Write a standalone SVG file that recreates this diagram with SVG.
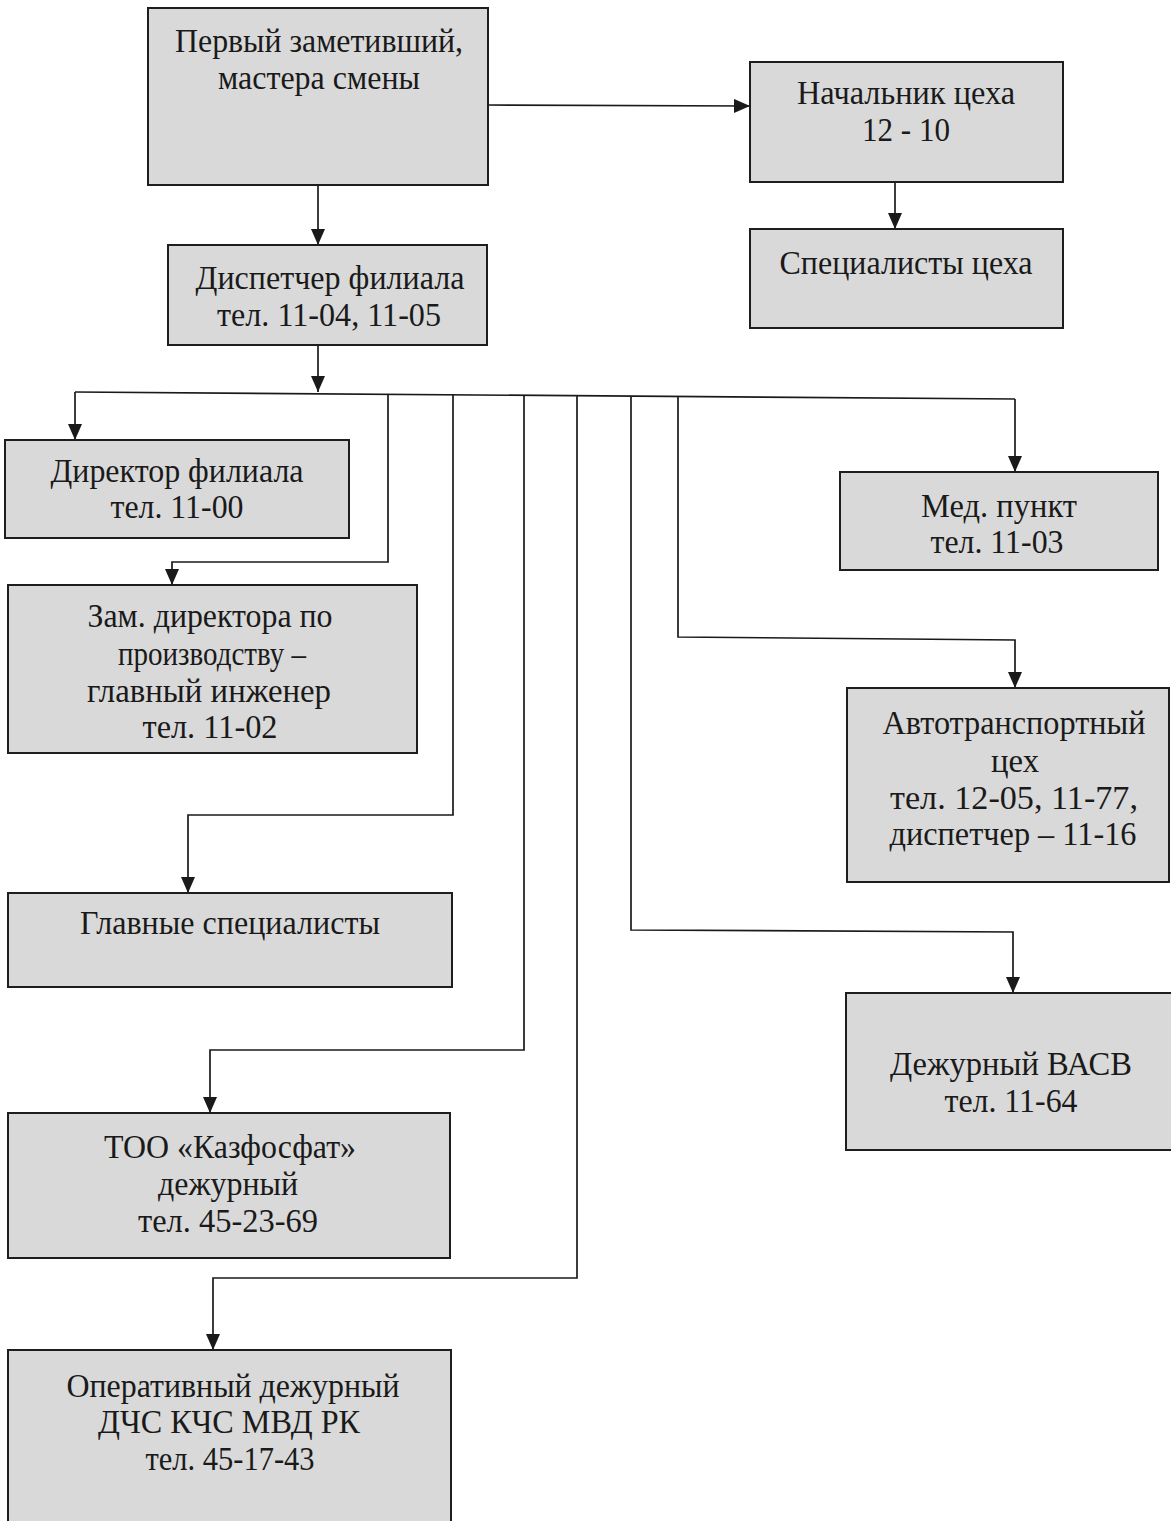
<svg xmlns="http://www.w3.org/2000/svg" width="1171" height="1521" viewBox="0 0 1171 1521">
<defs>
<marker id="arr" markerUnits="userSpaceOnUse" markerWidth="18" markerHeight="16" refX="16" refY="7" orient="auto"><path d="M0,0 L16,7 L0,14 z" fill="#1a1a1a"/></marker>
</defs>
<style>
.box{fill:#d9d9d9;stroke:#1e1e1e;stroke-width:2}
.t{font-family:"Liberation Serif","Times New Roman",serif;font-size:33px;fill:#1a1a1a;text-anchor:middle}
.c{fill:none;stroke:#1a1a1a;stroke-width:1.7}
</style>
<rect width="1171" height="1521" fill="#ffffff"/>
<g id="connectors">
<line class="c" x1="488" y1="105" x2="750" y2="106" marker-end="url(#arr)"/>
<line class="c" x1="318" y1="173" x2="318" y2="245" marker-end="url(#arr)"/>
<line class="c" x1="895" y1="182" x2="895" y2="229" marker-end="url(#arr)"/>
<line class="c" x1="318" y1="345" x2="318" y2="392" marker-end="url(#arr)"/>
<line class="c" x1="75" y1="392" x2="1015" y2="399"/>
<line class="c" x1="75" y1="392" x2="75" y2="440" marker-end="url(#arr)"/>
<polyline class="c" points="388,394 388,562 172,562 172,585" marker-end="url(#arr)"/>
<polyline class="c" points="453,394 453,815 188,815 188,893" marker-end="url(#arr)"/>
<polyline class="c" points="524,395 524,1050 210,1050 210,1113" marker-end="url(#arr)"/>
<polyline class="c" points="577,395 577,1278 213,1278 213,1350" marker-end="url(#arr)"/>
<polyline class="c" points="631,396 631,930 1013,932 1013,993" marker-end="url(#arr)"/>
<polyline class="c" points="678,397 678,637 1015,640 1015,688" marker-end="url(#arr)"/>
<line class="c" x1="1015" y1="399" x2="1015" y2="472" marker-end="url(#arr)"/>
</g>
<g id="n1"><rect class="box" x="148" y="8" width="340" height="177"/>
<text class="t" x="319" y="52" textLength="288" lengthAdjust="spacingAndGlyphs">Первый заметивший,</text><text class="t" x="319" y="89" textLength="202" lengthAdjust="spacingAndGlyphs">мастера смены</text></g>
<g id="n2"><rect class="box" x="750" y="62" width="313" height="120"/>
<text class="t" x="906" y="104" textLength="218" lengthAdjust="spacingAndGlyphs">Начальник цеха</text><text class="t" x="906" y="141" textLength="88" lengthAdjust="spacingAndGlyphs">12 - 10</text></g>
<g id="n3"><rect class="box" x="750" y="229" width="313" height="99"/>
<text class="t" x="906" y="274" textLength="253" lengthAdjust="spacingAndGlyphs">Специалисты цеха</text></g>
<g id="n4"><rect class="box" x="168" y="245" width="319" height="100"/>
<text class="t" x="330" y="289" textLength="269" lengthAdjust="spacingAndGlyphs">Диспетчер филиала</text><text class="t" x="329" y="326" textLength="224" lengthAdjust="spacingAndGlyphs">тел. 11-04, 11-05</text></g>
<g id="n5"><rect class="box" x="5" y="440" width="344" height="98"/>
<text class="t" x="177" y="482" textLength="253" lengthAdjust="spacingAndGlyphs">Директор филиала</text><text class="t" x="177" y="518" textLength="133" lengthAdjust="spacingAndGlyphs">тел. 11-00</text></g>
<g id="n6"><rect class="box" x="8" y="585" width="409" height="168"/>
<text class="t" x="210" y="627" textLength="245" lengthAdjust="spacingAndGlyphs">Зам. директора по</text><text class="t" x="212" y="665" textLength="188" lengthAdjust="spacingAndGlyphs">производству –</text><text class="t" x="209" y="702" textLength="244" lengthAdjust="spacingAndGlyphs">главный инженер</text><text class="t" x="210" y="738" textLength="135" lengthAdjust="spacingAndGlyphs">тел. 11-02</text></g>
<g id="n7"><rect class="box" x="8" y="893" width="444" height="94"/>
<text class="t" x="230" y="934" textLength="300" lengthAdjust="spacingAndGlyphs">Главные специалисты</text></g>
<g id="n8"><rect class="box" x="8" y="1113" width="442" height="145"/>
<text class="t" x="230" y="1158" textLength="252" lengthAdjust="spacingAndGlyphs">ТОО «Казфосфат»</text><text class="t" x="228" y="1195" textLength="140" lengthAdjust="spacingAndGlyphs">дежурный</text><text class="t" x="228" y="1232" textLength="180" lengthAdjust="spacingAndGlyphs">тел. 45-23-69</text></g>
<g id="n9"><rect class="box" x="8" y="1350" width="443" height="185"/>
<text class="t" x="233" y="1397" textLength="333" lengthAdjust="spacingAndGlyphs">Оперативный дежурный</text><text class="t" x="229" y="1433" textLength="262" lengthAdjust="spacingAndGlyphs">ДЧС КЧС МВД РК</text><text class="t" x="230" y="1470" textLength="169" lengthAdjust="spacingAndGlyphs">тел. 45-17-43</text></g>
<g id="n10"><rect class="box" x="840" y="472" width="318" height="98"/>
<text class="t" x="999" y="517" textLength="156" lengthAdjust="spacingAndGlyphs">Мед. пункт</text><text class="t" x="997" y="553" textLength="133" lengthAdjust="spacingAndGlyphs">тел. 11-03</text></g>
<g id="n11"><rect class="box" x="847" y="688" width="322" height="194"/>
<text class="t" x="1014" y="734" textLength="263" lengthAdjust="spacingAndGlyphs">Автотранспортный</text><text class="t" x="1015" y="772" textLength="48" lengthAdjust="spacingAndGlyphs">цех</text><text class="t" x="1014" y="809" textLength="248" lengthAdjust="spacingAndGlyphs">тел. 12-05, 11-77,</text><text class="t" x="1013" y="845" textLength="247" lengthAdjust="spacingAndGlyphs">диспетчер – 11-16</text></g>
<g id="n12"><rect class="box" x="846" y="993" width="330" height="157"/>
<text class="t" x="1011" y="1075" textLength="242" lengthAdjust="spacingAndGlyphs">Дежурный ВАСВ</text><text class="t" x="1011" y="1112" textLength="133" lengthAdjust="spacingAndGlyphs">тел. 11-64</text></g>
</svg>
